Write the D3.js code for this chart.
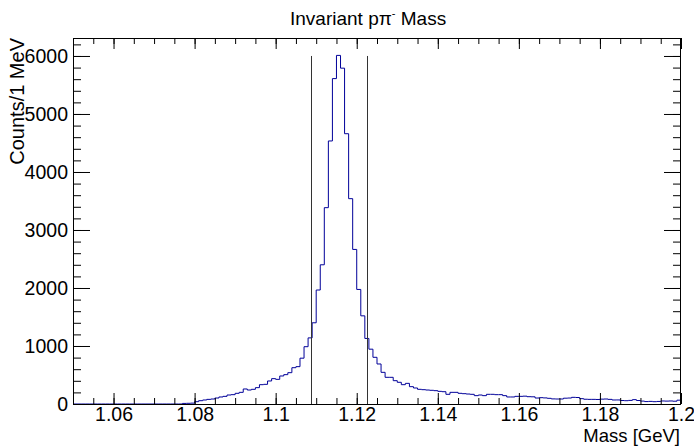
<!DOCTYPE html>
<html>
<head>
<meta charset="utf-8">
<script src="https://cdn.jsdelivr.net/npm/d3@7"></script>
<style>
body { margin: 0; background: #fff; }
text { font-family: "Liberation Sans", Arial, sans-serif; fill: #000; }
</style>
</head>
<body>
<svg id="chart" width="694" height="446"></svg>
<script>
var titleMain = "Invariant pπ"
var titleSup = "-"
var titleEnd = " Mass"
var xTitle = "Mass [GeV]"
var yTitle = "Counts/1 MeV"

// histogram: 150 bins of 1 MeV from 1.05 to 1.2 GeV
var massRange = [1.05, 1.2]
var binWidth = 0.001
var counts = [
    0, 0, 0, 0, 0, 0, 0, 0, 0, 0,
    0, 0, 0, 0, 0, 0, 0, 0, 0, 0,
    0, 0, 0, 0, 0, 0, 0, 10, 12, 15,
    40, 57, 69, 80, 86, 103, 121, 132, 155, 161,
    184, 201, 259, 241, 253, 282, 333, 339, 397, 437,
    425, 483, 506, 540, 626, 644, 790, 988, 1140, 1400,
    1965, 2400, 3385, 4535, 5610, 6010, 5790, 4660, 3540, 2665,
    1975, 1520, 1130, 945, 805, 690, 546, 460, 460, 402,
    374, 333, 356, 299, 276, 253, 247, 241, 236, 230,
    218, 212, 167, 201, 201, 184, 178, 172, 167, 144,
    155, 144, 167, 167, 161, 161, 144, 121, 121, 132,
    132, 135, 126, 124, 103, 109, 105, 98, 88, 86,
    86, 100, 103, 115, 112, 92, 82, 80, 80, 78,
    84, 86, 80, 69, 70, 60, 57, 62, 75, 60,
    50, 42, 45, 40, 44, 52, 50, 52, 48, 66
]

// mass window lines
var cutLines = [1.1086, 1.1226]
var cutHeight = 6000

var xTicks = [1.06, 1.08, 1.1, 1.12, 1.14, 1.16, 1.18, 1.2]
var yTicks = [0, 1000, 2000, 3000, 4000, 5000, 6000]
var yMax = 6310

var svg = d3.select("#chart")

var x = d3.scaleLinear().domain(massRange).range([73, 681])
var y = d3.scaleLinear().domain([0, yMax]).range([404, 38])

var xMinor = d3.range(0, 31).map(function(i) { return massRange[0] + i * 0.005 })
var yMinor = d3.range(0, 32).map(function(i) { return i * 200 })

// histogram outline
var pts = counts.map(function(c, i) {
    return [massRange[0] + i * binWidth, c]
})
pts.push([massRange[1], counts[counts.length - 1]])

var line = d3.line()
    .x(function(d) { return x(d[0]) })
    .y(function(d) { return y(d[1]) })
    .curve(d3.curveStepAfter)

svg.append("path")
    .datum(pts)
    .attr("d", line)
    .attr("fill", "none")
    .attr("stroke", "#000099")
    .attr("stroke-width", 1)

svg.selectAll(".cut")
    .data(cutLines).enter().append("line")
    .attr("class", "cut")
    .attr("x1", function(d) { return Math.round(x(d)) + 0.5 })
    .attr("x2", function(d) { return Math.round(x(d)) + 0.5 })
    .attr("y1", y(0))
    .attr("y2", y(cutHeight))
    .attr("stroke", "#333")
    .attr("stroke-width", 1)

// axes, ticks pointing inward like a ROOT frame
function addAxis(axis, tx, ty) {
    var g = svg.append("g")
        .attr("transform", "translate(" + tx + "," + ty + ")")
        .call(axis)
    g.select(".domain").remove()
    g.selectAll("line").attr("stroke", "#000")
    return g
}

var fmt = d3.format("~g")

var gx = addAxis(d3.axisBottom(x).tickValues(xTicks).tickSizeInner(-11).tickSizeOuter(0)
    .tickPadding(3).tickFormat(fmt), 0, 404)
addAxis(d3.axisBottom(x).tickValues(xMinor).tickSizeInner(-6).tickSizeOuter(0).tickFormat(""), 0, 404)
addAxis(d3.axisTop(x).tickValues(xTicks).tickSizeInner(-11).tickSizeOuter(0).tickFormat(""), 0, 38)
addAxis(d3.axisTop(x).tickValues(xMinor).tickSizeInner(-6).tickSizeOuter(0).tickFormat(""), 0, 38)

var gy = addAxis(d3.axisLeft(y).tickValues(yTicks).tickSizeInner(-17).tickSizeOuter(0)
    .tickPadding(5).tickFormat(fmt), 73, 0)
addAxis(d3.axisLeft(y).tickValues(yMinor).tickSizeInner(-8).tickSizeOuter(0).tickFormat(""), 73, 0)
addAxis(d3.axisRight(y).tickValues(yTicks).tickSizeInner(-17).tickSizeOuter(0).tickFormat(""), 681, 0)
addAxis(d3.axisRight(y).tickValues(yMinor).tickSizeInner(-8).tickSizeOuter(0).tickFormat(""), 681, 0)

gx.selectAll("text").attr("font-size", 19.5).attr("font-family", null)
gy.selectAll("text").attr("font-size", 19.5).attr("font-family", null)

svg.append("rect")
    .attr("x", 73.5)
    .attr("y", 38.5)
    .attr("width", 607)
    .attr("height", 366)
    .attr("fill", "none")
    .attr("stroke", "#000")

// titles
var t = svg.append("text")
    .attr("x", 290)
    .attr("y", 25)
    .attr("font-size", 19)
t.append("tspan").text(titleMain)
t.append("tspan").attr("dy", -8).attr("font-size", 11).text(titleSup)
t.append("tspan").attr("dy", 8).text(titleEnd)

svg.append("text")
    .attr("x", 680)
    .attr("y", 442)
    .attr("text-anchor", "end")
    .attr("font-size", 18.5)
    .text(xTitle)

svg.append("text")
    .attr("transform", "translate(24,38) rotate(-90)")
    .attr("text-anchor", "end")
    .attr("font-size", 20)
    .text(yTitle)
</script>
</body>
</html>
